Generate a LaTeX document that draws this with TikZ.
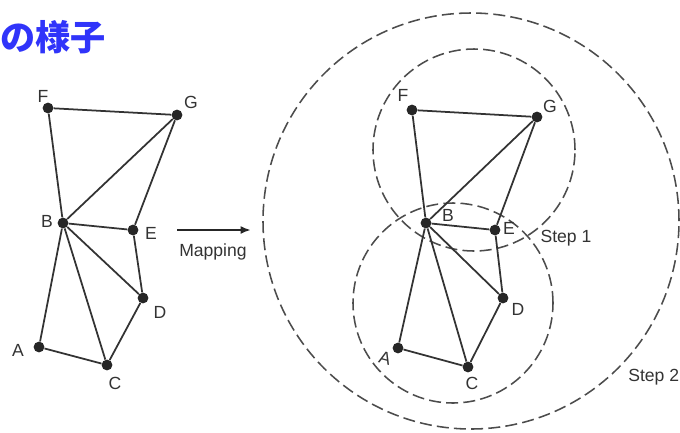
\documentclass[tikz,border=0pt]{standalone}
\usepackage{fontspec}
\setmainfont{Liberation Sans}
\newfontfamily\jpfont{Noto Sans CJK JP}
\usetikzlibrary{arrows.meta}
\definecolor{titleblue}{RGB}{48,52,250}

\begin{document}
\begin{tikzpicture}[
    x=0.25mm, y=-0.25mm, >=Latex,
    dot/.style={circle, fill=black!85, inner sep=0pt, minimum size=2.7mm},
    lbl/.style={inner sep=0pt, font=\fontsize{12.5}{14}\selectfont, text=black!80},
    edge/.style={line width=1.25pt, draw=black!80},
    ring/.style={circle, draw=black!70, line width=1.1pt, dash pattern=on 3mm off 1.3mm, inner sep=0pt}
]
\useasboundingbox (0,0) rectangle (680,432);
\clip (0,0) rectangle (680,432);
\node[anchor=west, inner sep=0pt, text=titleblue, font=\jpfont\bfseries\fontsize{25}{28}\selectfont] (Title) at (0,37) {の様子};
% rings of the mapping steps
\node[ring, minimum size=104mm] (Step2Ring) at (471,221) {};
\node[ring, minimum size=50.5mm] (UpperRing) at (474,150) {};
\node[ring, minimum size=50mm] (LowerRing) at (453,303) {};
\node[lbl] (Step1) at (566,238) {Step 1};
\node[lbl, anchor=west] (Step2) at (628,377) {Step 2};
% left graph
\node[dot] (lF) at (48,108) {}; \node[lbl] (lFtxt) at (43,96) {F};
\node[dot] (lG) at (177,115) {}; \node[lbl] (lGtxt) at (191,102) {G};
\node[dot] (lB) at (63,223) {}; \node[lbl] (lBtxt) at (47,221) {B};
\node[dot] (lE) at (133,230) {}; \node[lbl] (lEtxt) at (151,233) {E};
\node[dot] (lD) at (143,298) {}; \node[lbl] (lDtxt) at (160,312) {D};
\node[dot] (lA) at (39,347) {}; \node[lbl] (lAtxt) at (18,350) {A};
\node[dot] (lC) at (107,365) {}; \node[lbl] (lCtxt) at (115,383) {C};
\draw[edge] (lF) -- (lG);
\draw[edge] (lF) -- (lB);
\draw[edge] (lB) -- (lG);
\draw[edge] (lG) -- (lE);
\draw[edge] (lB) -- (lE);
\draw[edge] (lB) -- (lD);
\draw[edge] (lB) -- (lC);
\draw[edge] (lB) -- (lA);
\draw[edge] (lE) -- (lD);
\draw[edge] (lD) -- (lC);
\draw[edge] (lA) -- (lC);
% mapping arrow
\coordinate (MapStart) at (177,230);
\coordinate (MapEnd) at (251,230);
\draw[line width=1.6pt, draw=black!85, -{Latex[length=2.6mm, width=2mm]}] (MapStart) -- (MapEnd);
\node[lbl] (Mapping) at (213,252) {Mapping};
% right graph
\node[dot] (rF) at (412,110) {}; \node[lbl] (rFtxt) at (403,95) {F};
\node[dot] (rG) at (537,117) {}; \node[lbl] (rGtxt) at (550,106) {G};
\node[dot] (rB) at (426,223) {}; \node[lbl] (rBtxt) at (448,215) {B};
\node[dot] (rE) at (495,230) {}; \node[lbl] (rEtxt) at (509,228) {E};
\node[dot] (rD) at (503,298) {}; \node[lbl] (rDtxt) at (518,309) {D};
\node[dot] (rA) at (398,348) {}; \node[lbl, rotate=-15] (rAtxt) at (385,358) {A};
\node[dot] (rC) at (468,367) {}; \node[lbl] (rCtxt) at (472,383) {C};
\draw[edge] (rF) -- (rG);
\draw[edge] (rF) -- (rB);
\draw[edge] (rB) -- (rG);
\draw[edge] (rG) -- (rE);
\draw[edge] (rB) -- (rE);
\draw[edge] (rB) -- (rD);
\draw[edge] (rB) -- (rC);
\draw[edge] (rB) -- (rA);
\draw[edge] (rE) -- (rD);
\draw[edge] (rD) -- (rC);
\draw[edge] (rA) -- (rC);
\end{tikzpicture}
\end{document}
